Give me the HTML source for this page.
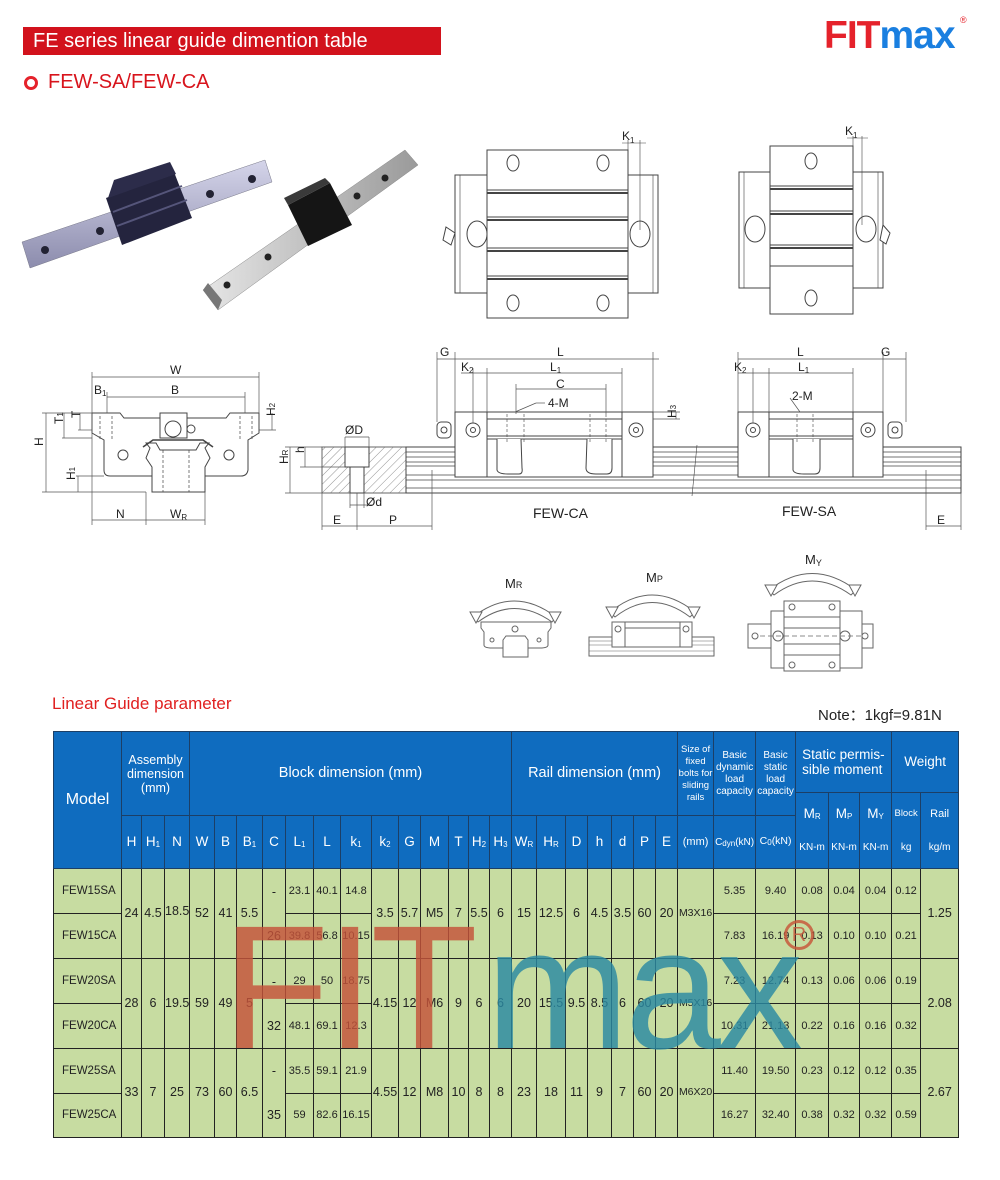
<!DOCTYPE html>
<html><head><meta charset="utf-8">
<style>
*{margin:0;padding:0;box-sizing:border-box}
body{width:1000px;height:1180px;background:#fff;position:relative;font-family:"Liberation Sans",sans-serif;overflow:hidden}
.abs{position:absolute}
table{position:absolute;left:53px;top:731px;width:905px;border-collapse:collapse;table-layout:fixed}
td{border:1.2px solid #222;text-align:center;vertical-align:middle;padding:0;overflow:hidden;white-space:nowrap;line-height:1.1}
thead td{background:#0f6cbf;color:#fff;border-color:#1c3f66}
tbody td{background:#c7dca1;color:#222;font-size:12.5px}
.sm{font-size:10px;line-height:12px;white-space:normal}
.h14{font-size:13.5px}
sub{font-size:8px;vertical-align:-1px;line-height:0}
.mc{font-size:13.5px;line-height:16px}
.mc span{display:block;font-size:10px;margin-top:18px}
.wm{position:absolute;left:222px;top:900px;font-size:176px;line-height:1;font-family:"Liberation Sans",sans-serif;letter-spacing:-4px;pointer-events:none;opacity:.82;white-space:nowrap}
</style></head><body>

<div class="abs" style="left:23px;top:27px;width:418px;height:28px;background:#d2121c;color:#fff;font-size:20px;line-height:28px;padding-left:10px">FE series linear guide dimention table</div>
<div class="abs" style="left:824px;top:14px;font-size:39px;font-weight:bold;letter-spacing:-1px"><span style="color:#e5222b">FIT</span><span style="color:#1a7fe0">max</span></div>
<div class="abs" style="left:960px;top:15px;font-size:9px;color:#e5222b">®</div>
<div class="abs" style="left:24px;top:76px;width:14px;height:14px;border:3px solid #e5222b;border-radius:50%"></div>
<div class="abs" style="left:48px;top:71px;font-size:20px;color:#d8141c">FEW-SA/FEW-CA</div>

<svg class="abs" style="left:0;top:0" width="1000" height="700" viewBox="0 0 1000 700" font-family="Liberation Sans, sans-serif">
<defs>
<linearGradient id="r1" x1="0" y1="0" x2="0" y2="1"><stop offset="0" stop-color="#d5d5ea"/><stop offset="1" stop-color="#8c8cad"/></linearGradient>
<linearGradient id="r2" x1="0" y1="0" x2="1" y2="0"><stop offset="0" stop-color="#e6e6e6"/><stop offset="1" stop-color="#9a9a9a"/></linearGradient>
<pattern id="hat" width="6" height="6" patternUnits="userSpaceOnUse" patternTransform="rotate(45)"><line x1="0" y1="0" x2="0" y2="6" stroke="#777" stroke-width="0.8"/></pattern>
</defs>
<polygon points="22,242 265,160 272,182 30,268" fill="url(#r1)" stroke="#778" stroke-width="0.5"/>
<circle cx="45" cy="250" r="4" fill="#223"/><circle cx="100" cy="231" r="4" fill="#223"/><circle cx="210" cy="194" r="4" fill="#223"/><circle cx="252" cy="179" r="4" fill="#223"/>
<polygon points="106,198 174,172 192,218 122,245" fill="#24243e"/>
<polygon points="114,180 170,162 176,174 108,198" fill="#2c2c4a"/>
<line x1="113" y1="212" x2="182" y2="186" stroke="#55557a" stroke-width="2"/><line x1="117" y1="226" x2="187" y2="200" stroke="#55557a" stroke-width="2"/>
<polygon points="203,290 405,150 418,165 218,310" fill="url(#r2)" stroke="#888" stroke-width="0.5"/>
<polygon points="203,290 218,310 222,300 208,283" fill="#777"/>
<circle cx="227" cy="285" r="3.5" fill="#222"/><circle cx="268" cy="257" r="3.5" fill="#222"/><circle cx="357" cy="196" r="3.5" fill="#222"/><circle cx="385" cy="178" r="3.5" fill="#222"/>
<polygon points="288,205 330,183 352,225 308,246" fill="#151515"/>
<polygon points="288,205 330,183 325,178 284,198" fill="#3a3a3a"/>
<g fill="#fff" stroke="#444" stroke-width="1">
<rect x="455" y="175" width="203" height="118"/>
<rect x="460" y="175" width="193" height="118" fill="none" stroke-width=".6"/>
<rect x="487" y="150" width="141" height="168"/>
<line x1="487" y1="190" x2="628" y2="190"/><line x1="487" y1="193" x2="628" y2="193" stroke-width="2"/>
<line x1="487" y1="217" x2="628" y2="217"/><line x1="487" y1="220" x2="628" y2="220" stroke-width="2"/>
<line x1="487" y1="248" x2="628" y2="248"/><line x1="487" y1="251" x2="628" y2="251" stroke-width="2"/>
<line x1="487" y1="276" x2="628" y2="276"/><line x1="487" y1="279" x2="628" y2="279" stroke-width="2"/>
<ellipse cx="513" cy="163" rx="6" ry="8"/><ellipse cx="603" cy="163" rx="6" ry="8"/>
<ellipse cx="513" cy="303" rx="6" ry="8"/><ellipse cx="603" cy="303" rx="6" ry="8"/>
<ellipse cx="477" cy="234" rx="10" ry="13"/><ellipse cx="640" cy="234" rx="10" ry="13"/>
<path d="M446 227 l9 6 l-4 12 l-8 -5z"/>
<line x1="628" y1="140" x2="628" y2="150" stroke-width=".6"/><line x1="640" y1="140" x2="640" y2="230" stroke-width=".6"/><line x1="622" y1="143" x2="646" y2="143" stroke-width=".6"/>
</g>
<text x="622" y="140" font-size="12" fill="#222">K<tspan font-size="8" dy="3">1</tspan></text>
<g fill="#fff" stroke="#444" stroke-width="1">
<rect x="739" y="172" width="144" height="116"/>
<rect x="744" y="172" width="134" height="116" fill="none" stroke-width=".6"/>
<rect x="770" y="146" width="83" height="168"/>
<line x1="770" y1="186" x2="853" y2="186"/><line x1="770" y1="189" x2="853" y2="189" stroke-width="2"/>
<line x1="770" y1="211" x2="853" y2="211"/><line x1="770" y1="214" x2="853" y2="214" stroke-width="2"/>
<line x1="770" y1="245" x2="853" y2="245"/><line x1="770" y1="248" x2="853" y2="248" stroke-width="2"/>
<line x1="770" y1="266" x2="853" y2="266"/>
<ellipse cx="811" cy="161" rx="6" ry="8"/><ellipse cx="811" cy="298" rx="6" ry="8"/>
<ellipse cx="755" cy="229" rx="10" ry="13"/><ellipse cx="866" cy="229" rx="10" ry="13"/>
<path d="M883 225 l7 8 l-4 11 l-6 -4z"/>
<line x1="853" y1="136" x2="853" y2="146" stroke-width=".6"/><line x1="862" y1="136" x2="862" y2="225" stroke-width=".6"/><line x1="847" y1="138" x2="868" y2="138" stroke-width=".6"/>
</g>
<text x="845" y="135" font-size="12" fill="#222">K<tspan font-size="8" dy="3">1</tspan></text>

<g fill="#fff" stroke="#444" stroke-width="1">
<path d="M92 413 H120 L124 418 H226 L230 413 H259 V433 L248 440 V470 Q247 476 241 476 H110 Q104 476 104 470 V440 L92 433 Z"/>
<path d="M146 443 L150 448 L146 458 L152 467 V492 H205 V467 L210 458 L205 448 L209 443 L200 443 L196 450 H160 L156 443 Z" />
<path d="M143 447 L153 440 H203 L213 447" fill="none" stroke-width="1.6"/>
<rect x="160" y="413" width="27" height="25"/>
<circle cx="173" cy="429" r="8"/><circle cx="191" cy="429" r="4"/>
<circle cx="123" cy="455" r="5"/><circle cx="229" cy="455" r="5"/>
<g stroke-dasharray="3,2" stroke-width=".7"><line x1="163" y1="450" x2="163" y2="492"/><line x1="189" y1="450" x2="189" y2="492"/><line x1="100" y1="416" x2="100" y2="440"/><line x1="112" y1="416" x2="112" y2="440"/><line x1="240" y1="416" x2="240" y2="440"/><line x1="252" y1="416" x2="252" y2="440"/></g>
</g>
<g stroke="#555" stroke-width=".7" fill="none">
<line x1="92" y1="377" x2="259" y2="377"/><line x1="92" y1="372" x2="92" y2="525"/><line x1="259" y1="372" x2="259" y2="413"/>
<line x1="107" y1="397" x2="245" y2="397"/><line x1="107" y1="392" x2="107" y2="413"/><line x1="245" y1="392" x2="245" y2="413"/>
<line x1="42" y1="413" x2="92" y2="413"/><line x1="42" y1="492" x2="146" y2="492"/><line x1="46" y1="413" x2="46" y2="492"/>
<line x1="62" y1="438" x2="92" y2="438"/><line x1="64" y1="413" x2="64" y2="438"/><line x1="80" y1="413" x2="80" y2="430"/><line x1="78" y1="430" x2="92" y2="430"/>
<line x1="76" y1="476" x2="104" y2="476"/><line x1="78" y1="476" x2="78" y2="492"/>
<line x1="259" y1="430" x2="276" y2="430"/><line x1="272" y1="413" x2="272" y2="430"/>
<line x1="146" y1="492" x2="146" y2="525"/><line x1="205" y1="492" x2="205" y2="525"/>
<line x1="92" y1="520" x2="146" y2="520"/><line x1="146" y1="520" x2="205" y2="520"/>
</g>
<g font-size="12" fill="#222">
<text x="170" y="374">W</text><text x="94" y="394">B<tspan font-size="8" dy="2">1</tspan></text><text x="171" y="394">B</text>
<text x="43" y="454" transform="rotate(-90 39 450)">H</text>
<text x="59" y="430" transform="rotate(-90 58 425)">T<tspan font-size="8">1</tspan></text>
<text x="79" y="425" transform="rotate(-90 76 421)">T</text>
<text x="275" y="424" transform="rotate(-90 271 420)">H<tspan font-size="8">2</tspan></text>
<text x="75" y="488" transform="rotate(-90 71 484)">H<tspan font-size="8">1</tspan></text>
<text x="116" y="518">N</text><text x="170" y="518">W<tspan font-size="8" dy="2">R</tspan></text>
</g>

<g stroke="#444" stroke-width="1" fill="#fff">
<rect x="322" y="447" width="84" height="46" fill="url(#hat)" stroke="#666"/>
<rect x="345" y="447" width="24" height="20" fill="#fff"/><rect x="350" y="467" width="14" height="26" fill="#fff"/>
<rect x="406" y="447" width="555" height="46" fill="#fff"/>
<g stroke-width=".7"><line x1="406" y1="452" x2="961" y2="452"/><line x1="406" y1="457" x2="961" y2="457"/><line x1="406" y1="462" x2="961" y2="462"/><line x1="406" y1="466" x2="961" y2="466"/><line x1="406" y1="475" x2="961" y2="475"/><line x1="406" y1="480" x2="961" y2="480"/><line x1="406" y1="488" x2="961" y2="488"/></g>
<rect x="455" y="412" width="198" height="65"/>
<line x1="487" y1="412" x2="487" y2="477"/><line x1="622" y1="412" x2="622" y2="477"/>
<line x1="487" y1="419" x2="622" y2="419"/><line x1="487" y1="436" x2="622" y2="436"/><line x1="487" y1="439" x2="622" y2="439"/>
<path d="M497 439 V470 Q498 474 508 474 H519 Q523 474 522 468 L521 439"/><path d="M587 439 L586 468 Q586 474 596 474 H607 Q612 474 612 468 V439"/>
<circle cx="473" cy="430" r="7"/><circle cx="473" cy="430" r="2.5"/><circle cx="636" cy="430" r="7"/><circle cx="636" cy="430" r="2.5"/>
<rect x="437" y="422" width="14" height="16" rx="4"/><circle cx="444" cy="430" r="3"/>
<rect x="738" y="412" width="145" height="65"/>
<line x1="769" y1="412" x2="769" y2="477"/><line x1="853" y1="412" x2="853" y2="477"/>
<line x1="769" y1="419" x2="853" y2="419"/><line x1="769" y1="436" x2="853" y2="436"/><line x1="769" y1="439" x2="853" y2="439"/>
<path d="M793 439 V470 Q794 474 804 474 H815 Q820 474 820 468 V439"/>
<circle cx="753" cy="430" r="7"/><circle cx="753" cy="430" r="2.5"/><circle cx="868" cy="430" r="7"/><circle cx="868" cy="430" r="2.5"/>
<rect x="888" y="422" width="14" height="16" rx="4"/><circle cx="895" cy="430" r="3"/>
<g stroke-dasharray="3,2" stroke-width=".6" fill="none"><line x1="507" y1="414" x2="507" y2="444"/><line x1="524" y1="414" x2="524" y2="444"/><line x1="590" y1="414" x2="590" y2="444"/><line x1="606" y1="414" x2="606" y2="444"/><line x1="797" y1="414" x2="797" y2="444"/><line x1="813" y1="414" x2="813" y2="444"/></g>
<line x1="697" y1="445" x2="692" y2="496" stroke-width=".6"/>
</g>
<g stroke="#555" stroke-width=".7" fill="none">
<line x1="437" y1="359" x2="659" y2="359"/><line x1="437" y1="352" x2="437" y2="422"/><line x1="455" y1="352" x2="455" y2="412"/><line x1="653" y1="352" x2="653" y2="412"/>
<line x1="461" y1="373" x2="622" y2="373"/><line x1="473" y1="368" x2="473" y2="423"/><line x1="487" y1="368" x2="487" y2="412"/><line x1="622" y1="368" x2="622" y2="412"/>
<line x1="516" y1="389" x2="606" y2="389"/><line x1="516" y1="384" x2="516" y2="414"/><line x1="606" y1="384" x2="606" y2="414"/>
<line x1="515" y1="412" x2="536" y2="403"/><line x1="536" y1="403" x2="545" y2="403"/>
<line x1="653" y1="412" x2="680" y2="412"/><line x1="653" y1="419" x2="680" y2="419"/><line x1="676" y1="412" x2="676" y2="419"/>
<line x1="738" y1="359" x2="906" y2="359"/><line x1="883" y1="352" x2="883" y2="412"/><line x1="906" y1="352" x2="906" y2="422"/><line x1="738" y1="352" x2="738" y2="412"/>
<line x1="738" y1="373" x2="853" y2="373"/><line x1="753" y1="368" x2="753" y2="423"/><line x1="769" y1="368" x2="769" y2="412"/><line x1="853" y1="368" x2="853" y2="412"/>
<line x1="800" y1="412" x2="790" y2="398"/>
<line x1="285" y1="447" x2="322" y2="447"/><line x1="285" y1="493" x2="322" y2="493"/><line x1="290" y1="447" x2="290" y2="493"/>
<line x1="300" y1="467" x2="345" y2="467"/><line x1="305" y1="447" x2="305" y2="467"/>
<line x1="345" y1="437" x2="369" y2="437"/><line x1="345" y1="437" x2="345" y2="447"/><line x1="369" y1="437" x2="369" y2="447"/>
<line x1="350" y1="493" x2="350" y2="508"/><line x1="364" y1="493" x2="364" y2="508"/><line x1="350" y1="505" x2="372" y2="505"/>
<line x1="322" y1="493" x2="322" y2="530"/><line x1="357" y1="493" x2="357" y2="530"/><line x1="432" y1="470" x2="432" y2="530"/>
<line x1="322" y1="526" x2="432" y2="526"/>
<line x1="961" y1="493" x2="961" y2="530"/><line x1="926" y1="470" x2="926" y2="530"/><line x1="926" y1="526" x2="961" y2="526"/>
</g>
<g font-size="12" fill="#222">
<text x="440" y="356">G</text><text x="557" y="356">L</text><text x="461" y="371">K<tspan font-size="8" dy="2">2</tspan></text><text x="550" y="371">L<tspan font-size="8" dy="2">1</tspan></text>
<text x="556" y="388">C</text><text x="548" y="407">4-M</text>
<text x="678" y="428" transform="rotate(-90 672 424)">H<tspan font-size="8">3</tspan></text>
<text x="797" y="356">L</text><text x="881" y="356">G</text><text x="734" y="371">K<tspan font-size="8" dy="2">2</tspan></text><text x="798" y="371">L<tspan font-size="8" dy="2">1</tspan></text>
<text x="792" y="400">2-M</text>
<text x="345" y="434">ØD</text><text x="305" y="462" transform="rotate(-90 300 458)">h</text>
<text x="290" y="474" transform="rotate(-90 284 470)">H<tspan font-size="8">R</tspan></text>
<text x="366" y="506">Ød</text>
<text x="333" y="524">E</text><text x="389" y="524">P</text><text x="937" y="524">E</text>
<text x="533" y="518" font-size="14">FEW-CA</text><text x="782" y="516" font-size="14">FEW-SA</text>
</g>

<g fill="#fff" stroke="#666" stroke-width="1">
<path d="M473 617 Q514 585 556 617 L552 622 Q514 595 478 622 Z"/>
<path d="M470 612 l12 0 l-6 11z"/><path d="M549 612 l12 0 l-6 11z"/>
<path d="M610 612 Q652 578 695 612 L690 617 Q652 588 615 617 Z"/>
<path d="M606 607 l12 0 l-6 11z"/><path d="M688 607 l12 0 l-6 11z"/>
<path d="M769 590 Q812 557 856 590 L851 595 Q812 567 774 595 Z"/>
<path d="M765 585 l12 0 l-6 11z"/><path d="M849 585 l12 0 l-6 11z"/>
<path d="M481 622 H551 V628 L548 632 V645 Q548 648 540 648 H528 V657 H503 V648 H492 Q484 648 484 645 V632 L481 628 Z"/>
<path d="M503 648 V640 L506 636 H525 L528 640 V648" fill="none"/>
<circle cx="515" cy="629" r="3"/><circle cx="492" cy="640" r="2"/><circle cx="539" cy="640" r="2"/>
<rect x="589" y="637" width="125" height="19"/>
<line x1="589" y1="641" x2="714" y2="641" stroke-width=".6"/><line x1="589" y1="645" x2="714" y2="645" stroke-width=".6"/><line x1="589" y1="651" x2="714" y2="651" stroke-width=".6"/>
<rect x="612" y="622" width="80" height="25"/><line x1="625" y1="622" x2="625" y2="647"/><line x1="680" y1="622" x2="680" y2="647"/><line x1="625" y1="628" x2="680" y2="628"/>
<circle cx="618" cy="629" r="3"/><circle cx="686" cy="629" r="3"/>
<rect x="748" y="624" width="125" height="24"/>
<rect x="771" y="611" width="91" height="57"/><rect x="784" y="601" width="56" height="70"/>
<line x1="784" y1="617" x2="840" y2="617"/><line x1="784" y1="628" x2="840" y2="628"/><line x1="784" y1="644" x2="840" y2="644"/><line x1="784" y1="655" x2="840" y2="655"/>
<circle cx="792" cy="607" r="3"/><circle cx="832" cy="607" r="3"/><circle cx="792" cy="665" r="3"/><circle cx="832" cy="665" r="3"/>
<circle cx="778" cy="636" r="5"/><circle cx="845" cy="636" r="5"/><circle cx="755" cy="636" r="3"/><circle cx="865" cy="636" r="3"/>
<line x1="760" y1="636" x2="862" y2="636" stroke-dasharray="5,3" stroke-width=".7"/>
</g>
<g font-size="13" fill="#222">
<text x="505" y="588">M<tspan font-size="9">R</tspan></text><text x="646" y="582">M<tspan font-size="9">P</tspan></text><text x="805" y="564">M<tspan font-size="9" dy="2">Y</tspan></text>
</g>
</svg>

<div class="abs" style="left:52px;top:694px;font-size:17px;color:#e02020">Linear Guide parameter</div>
<div class="abs" style="left:818px;top:704px;font-size:15px;color:#222">Note：1kgf=9.81N</div>

<table>
<colgroup>
<col style="width:68px"><col style="width:20px"><col style="width:23px"><col style="width:25px"><col style="width:25px"><col style="width:22px"><col style="width:26px"><col style="width:23px"><col style="width:28px"><col style="width:27px"><col style="width:31px"><col style="width:27px"><col style="width:22px"><col style="width:28px"><col style="width:20px"><col style="width:21px"><col style="width:22px"><col style="width:25px"><col style="width:29px"><col style="width:22px"><col style="width:24px"><col style="width:22px"><col style="width:22px"><col style="width:22px"><col style="width:36px"><col style="width:42px"><col style="width:40px"><col style="width:33px"><col style="width:31px"><col style="width:32px"><col style="width:29px"><col style="width:38px">
</colgroup>
<thead>
<tr style="height:61px">
<td rowspan="3" style="font-size:16px">Model</td>
<td colspan="3" rowspan="2" style="font-size:12.5px;white-space:normal;line-height:14px">Assembly dimension (mm)</td>
<td colspan="13" rowspan="2" style="font-size:14.5px">Block dimension (mm)</td>
<td colspan="7" rowspan="2" style="font-size:14.5px">Rail dimension (mm)</td>
<td rowspan="2" class="sm" style="font-size:9.5px;line-height:12px">Size of fixed bolts for sliding rails</td>
<td rowspan="2" class="sm">Basic dynamic load capacity</td>
<td rowspan="2" class="sm">Basic static load capacity</td>
<td colspan="3" style="font-size:13.5px;white-space:normal;line-height:15px;text-align:left;padding-left:6px">Static permis-sible moment</td>
<td colspan="2" style="font-size:13.5px">Weight</td>
</tr>
<tr style="height:23px">
<td rowspan="2" class="mc">M<sub>R</sub><span>KN-m</span></td>
<td rowspan="2" class="mc">M<sub>P</sub><span>KN-m</span></td>
<td rowspan="2" class="mc">M<sub>Y</sub><span>KN-m</span></td>
<td rowspan="2" class="mc" style="font-size:9.5px">Block<span>kg</span></td>
<td rowspan="2" class="mc" style="font-size:11px">Rail<span>kg/m</span></td>
</tr>
<tr style="height:53px">
<td class="h14">H</td><td class="h14">H<sub>1</sub></td><td class="h14">N</td><td class="h14">W</td><td class="h14">B</td><td class="h14">B<sub>1</sub></td><td class="h14">C</td><td class="h14">L<sub>1</sub></td><td class="h14">L</td><td class="h14">k<sub>1</sub></td><td class="h14">k<sub>2</sub></td><td class="h14">G</td><td class="h14">M</td><td class="h14">T</td><td class="h14">H<sub>2</sub></td><td class="h14">H<sub>3</sub></td><td class="h14">W<sub>R</sub></td><td class="h14">H<sub>R</sub></td><td class="h14">D</td><td class="h14">h</td><td class="h14">d</td><td class="h14">P</td><td class="h14">E</td><td style="font-size:11px">(mm)</td><td style="font-size:10px">C<sub>dyn</sub>(kN)</td><td style="font-size:10.5px">C<sub>0</sub>(kN)</td>
</tr>
</thead>
<tbody>
<tr style="height:45px"><td style="text-align:left;padding-left:8px;font-size:11.5px">FEW15SA</td><td rowspan="2">24</td><td rowspan="2">4.5</td><td rowspan="2" style="padding-bottom:4px">18.5</td><td rowspan="2">52</td><td rowspan="2">41</td><td rowspan="2">5.5</td><td rowspan="2" style="line-height:44px">-<br>26</td><td style="font-size:11px">23.1</td><td style="font-size:11px">40.1</td><td style="font-size:11px">14.8</td><td rowspan="2">3.5</td><td rowspan="2">5.7</td><td rowspan="2">M5</td><td rowspan="2">7</td><td rowspan="2">5.5</td><td rowspan="2">6</td><td rowspan="2">15</td><td rowspan="2">12.5</td><td rowspan="2">6</td><td rowspan="2">4.5</td><td rowspan="2">3.5</td><td rowspan="2">60</td><td rowspan="2">20</td><td rowspan="2" style="font-size:10.5px">M3X16</td><td style="font-size:11px">5.35</td><td style="font-size:11px">9.40</td><td style="font-size:11px">0.08</td><td style="font-size:11px">0.04</td><td style="font-size:11px">0.04</td><td style="font-size:11px">0.12</td><td rowspan="2">1.25</td></tr>
<tr style="height:45px"><td style="text-align:left;padding-left:8px;font-size:11.5px">FEW15CA</td><td style="font-size:11px">39.8</td><td style="font-size:11px">56.8</td><td style="font-size:11px">10.15</td><td style="font-size:11px">7.83</td><td style="font-size:11px">16.19</td><td style="font-size:11px">0.13</td><td style="font-size:11px">0.10</td><td style="font-size:11px">0.10</td><td style="font-size:11px">0.21</td></tr>
<tr style="height:45px"><td style="text-align:left;padding-left:8px;font-size:11.5px">FEW20SA</td><td rowspan="2">28</td><td rowspan="2">6</td><td rowspan="2">19.5</td><td rowspan="2">59</td><td rowspan="2">49</td><td rowspan="2">5</td><td rowspan="2" style="line-height:44px">-<br>32</td><td style="font-size:11px">29</td><td style="font-size:11px">50</td><td style="font-size:11px">18.75</td><td rowspan="2">4.15</td><td rowspan="2">12</td><td rowspan="2">M6</td><td rowspan="2">9</td><td rowspan="2">6</td><td rowspan="2">6</td><td rowspan="2">20</td><td rowspan="2">15.5</td><td rowspan="2">9.5</td><td rowspan="2">8.5</td><td rowspan="2">6</td><td rowspan="2">60</td><td rowspan="2">20</td><td rowspan="2" style="font-size:10.5px">M5X16</td><td style="font-size:11px">7.23</td><td style="font-size:11px">12.74</td><td style="font-size:11px">0.13</td><td style="font-size:11px">0.06</td><td style="font-size:11px">0.06</td><td style="font-size:11px">0.19</td><td rowspan="2">2.08</td></tr>
<tr style="height:45px"><td style="text-align:left;padding-left:8px;font-size:11.5px">FEW20CA</td><td style="font-size:11px">48.1</td><td style="font-size:11px">69.1</td><td style="font-size:11px">12.3</td><td style="font-size:11px">10.31</td><td style="font-size:11px">21.13</td><td style="font-size:11px">0.22</td><td style="font-size:11px">0.16</td><td style="font-size:11px">0.16</td><td style="font-size:11px">0.32</td></tr>
<tr style="height:45px"><td style="text-align:left;padding-left:8px;font-size:11.5px">FEW25SA</td><td rowspan="2">33</td><td rowspan="2">7</td><td rowspan="2">25</td><td rowspan="2">73</td><td rowspan="2">60</td><td rowspan="2">6.5</td><td rowspan="2" style="line-height:44px">-<br>35</td><td style="font-size:11px">35.5</td><td style="font-size:11px">59.1</td><td style="font-size:11px">21.9</td><td rowspan="2">4.55</td><td rowspan="2">12</td><td rowspan="2">M8</td><td rowspan="2">10</td><td rowspan="2">8</td><td rowspan="2">8</td><td rowspan="2">23</td><td rowspan="2">18</td><td rowspan="2">11</td><td rowspan="2">9</td><td rowspan="2">7</td><td rowspan="2">60</td><td rowspan="2">20</td><td rowspan="2" style="font-size:10.5px">M6X20</td><td style="font-size:11px">11.40</td><td style="font-size:11px">19.50</td><td style="font-size:11px">0.23</td><td style="font-size:11px">0.12</td><td style="font-size:11px">0.12</td><td style="font-size:11px">0.35</td><td rowspan="2">2.67</td></tr>
<tr style="height:44px"><td style="text-align:left;padding-left:8px;font-size:11.5px">FEW25CA</td><td style="font-size:11px">59</td><td style="font-size:11px">82.6</td><td style="font-size:11px">16.15</td><td style="font-size:11px">16.27</td><td style="font-size:11px">32.40</td><td style="font-size:11px">0.38</td><td style="font-size:11px">0.32</td><td style="font-size:11px">0.32</td><td style="font-size:11px">0.59</td></tr>
</tbody>
</table>

<div class="wm"><span style="color:#c5533a">FIT</span><span style="color:#2a8aa3;font-size:172px;margin-left:12px">max</span></div>
<div class="abs" style="left:784px;top:920px;width:30px;height:30px;border:3px solid #c85a3d;border-radius:50%;color:#c85a3d;font-size:20px;line-height:24px;text-align:center;opacity:.85">R</div>
</body></html>
